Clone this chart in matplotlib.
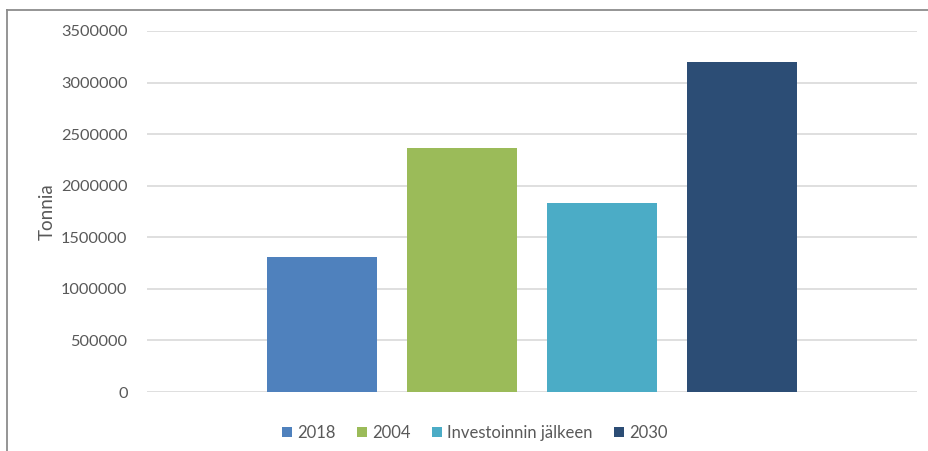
import matplotlib.pyplot as plt
from matplotlib.lines import Line2D

plt.rcParams['font.family'] = ['Lato', 'DejaVu Sans']

series = ['2018', '2004', 'Investoinnin jälkeen', '2030']
values = [1310000, 2365000, 1830000, 3200000]
colors = ['#4f81bd', '#9bbb59', '#4bacc6', '#2c4d75']
yticks = [0, 500000, 1000000, 1500000, 2000000, 2500000, 3000000, 3500000]

fig = plt.figure(figsize=(9.29, 4.51), dpi=100)
ax = fig.add_axes([147/929, 1 - 392/451, 770/929, 361/451])

for i, (name, v, c) in enumerate(zip(series, values, colors)):
    ax.bar(i, v, width=110/140, color=c, label=name, zorder=3)

ax.set_xlim(-1.25, 4.25)
ax.set_ylim(0, 3500000)
ax.set_yticks(yticks)
ax.set_yticklabels([str(t) for t in yticks])
ax.set_xticks([])
ax.grid(axis='y', color='#d9d9d9', linewidth=1.2, zorder=0)
ax.tick_params(axis='y', length=0, pad=14, labelsize=11.8, labelcolor='#595959')
for s in ax.spines.values():
    s.set_visible(False)
ax.set_ylabel('Tonnia', fontsize=13.5, color='#595959')
ax.yaxis.set_label_coords(-0.119, 0.5)

fig.legend(loc='center', bbox_to_anchor=(0.511, 0.04), ncol=4, frameon=False,
           handlelength=0.6, handleheight=0.6, handletextpad=0.3,
           columnspacing=1.3, fontsize=12, labelcolor='#595959')

# outer chart frame (only left and top edges visible)
fig.add_artist(Line2D([7/929, 7/929], [0, 1 - 10/451], transform=fig.transFigure,
                      color='#8c8c8c', linewidth=1.3))
fig.add_artist(Line2D([7/929, 1], [1 - 10/451, 1 - 10/451], transform=fig.transFigure,
                      color='#8c8c8c', linewidth=1.3))

fig.savefig('out.png', dpi=100)
